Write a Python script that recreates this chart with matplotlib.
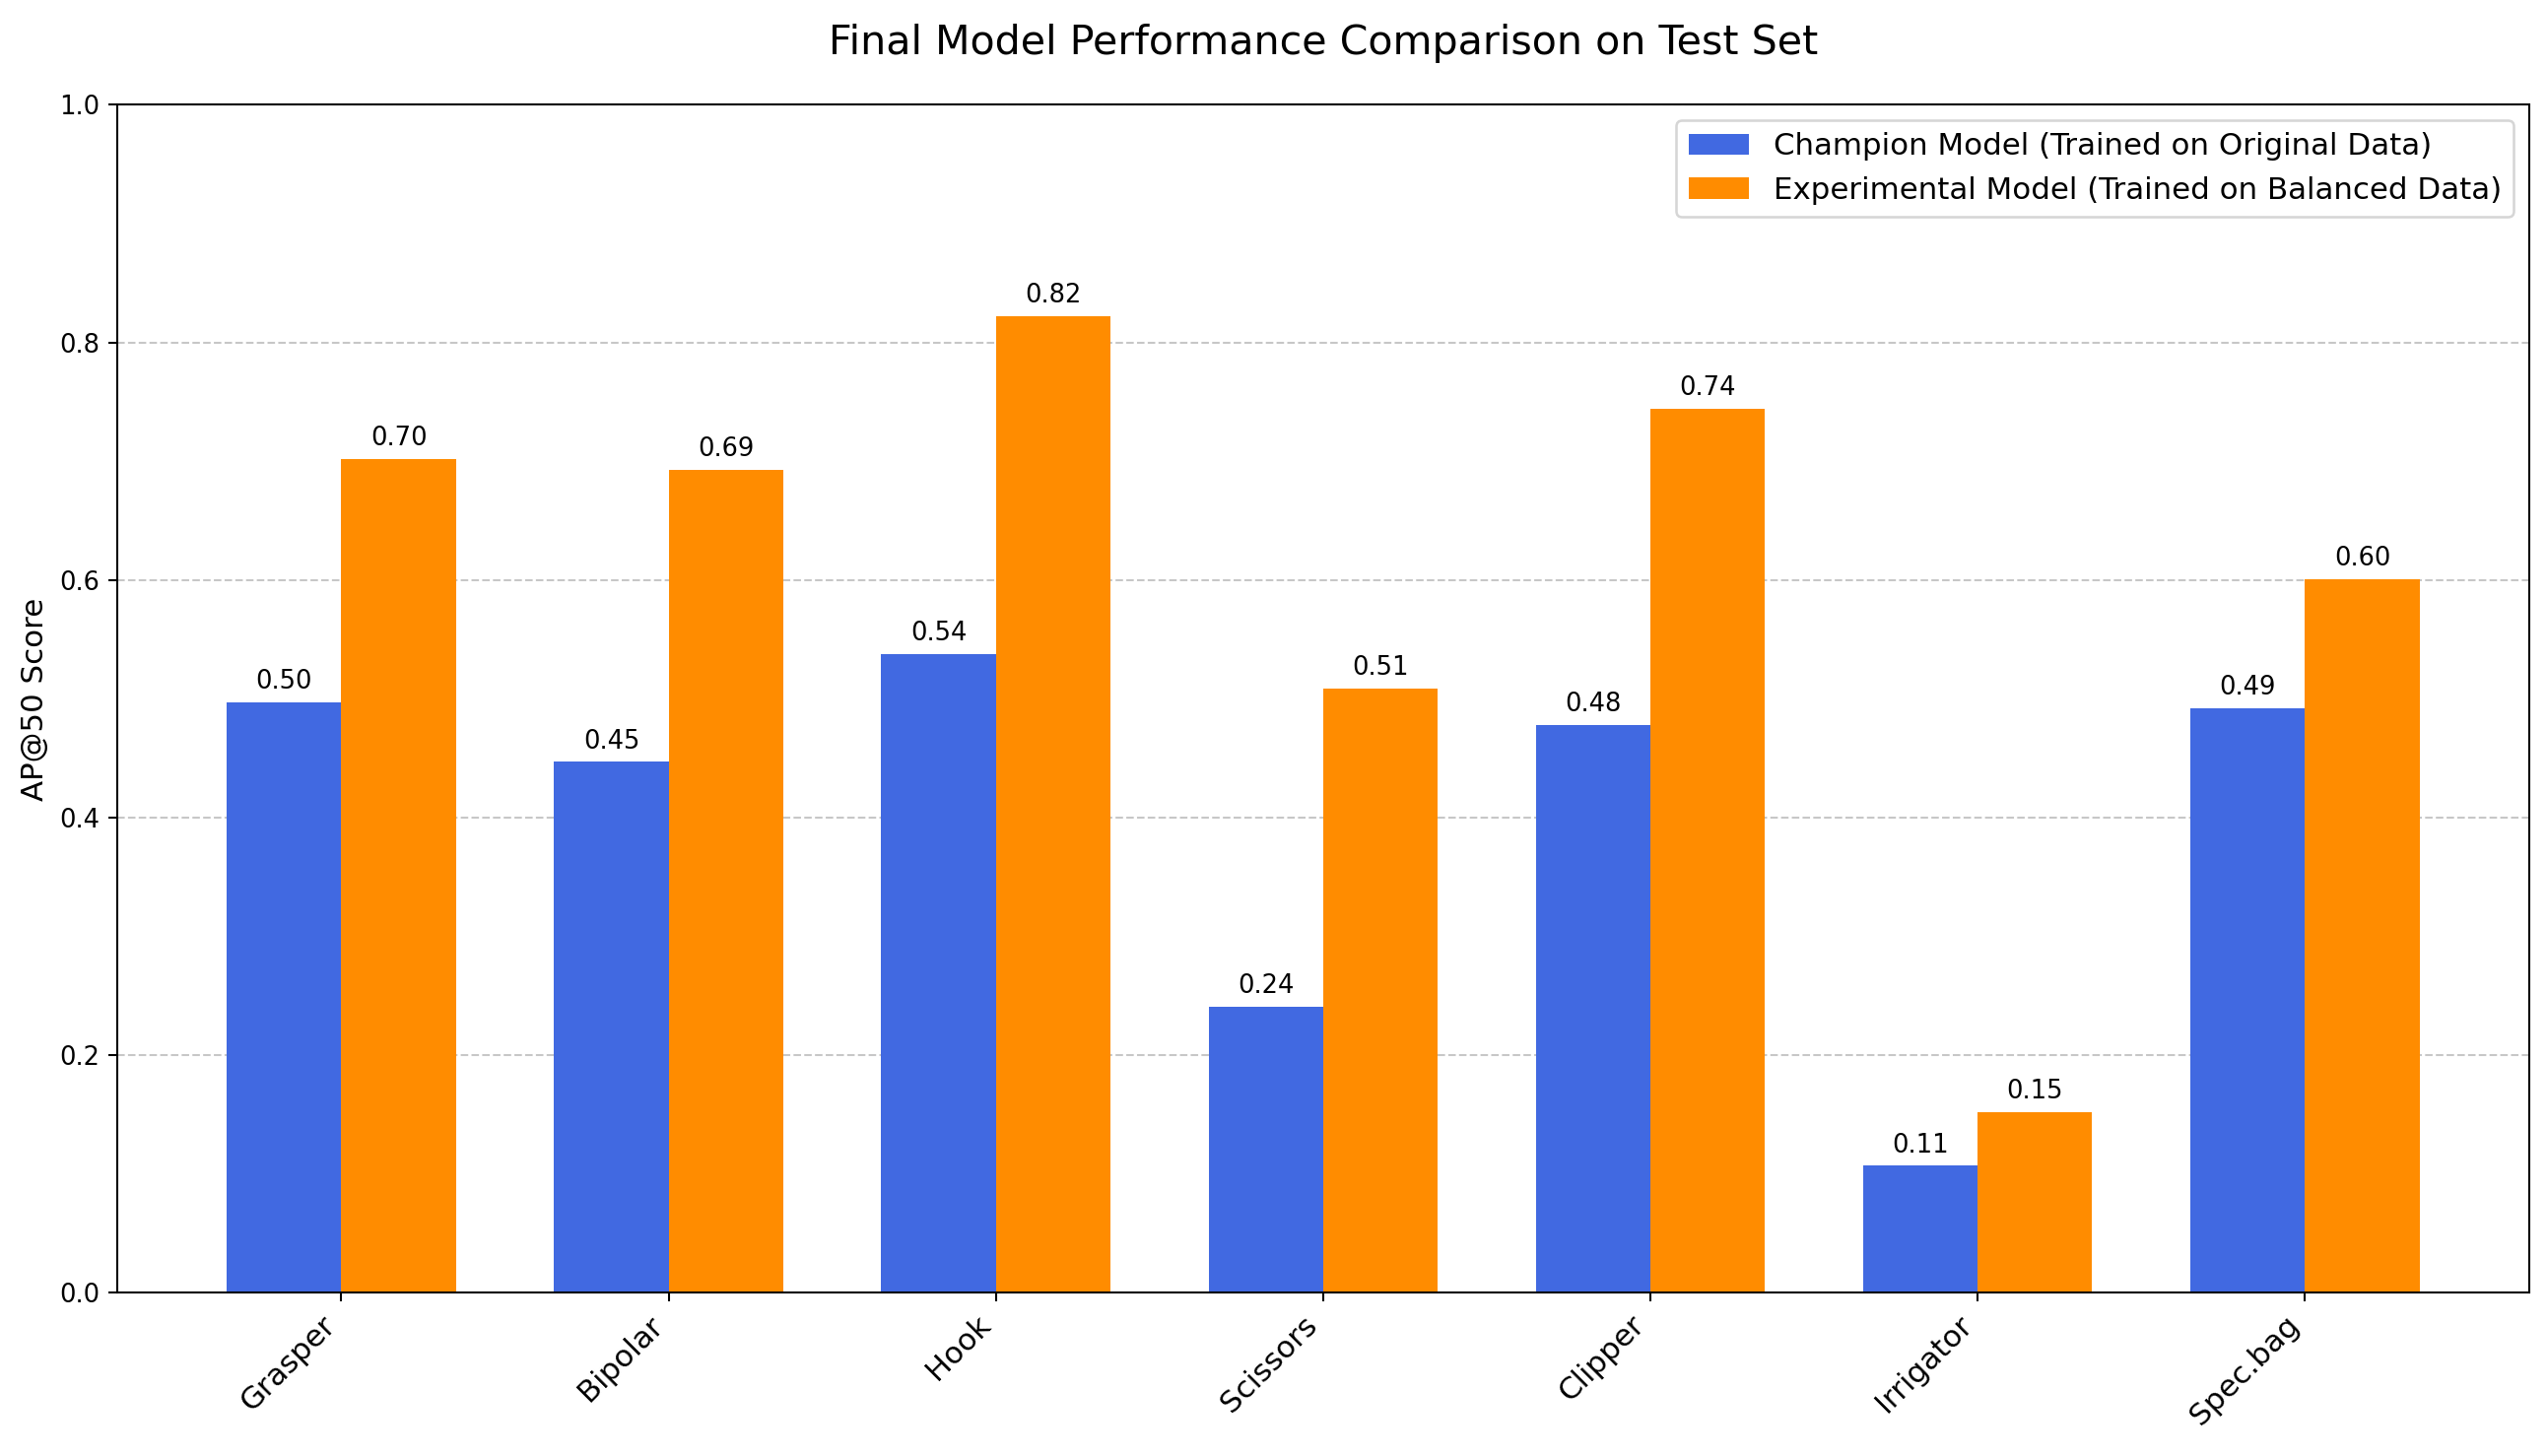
import numpy as np
import matplotlib
matplotlib.use('Agg')
import matplotlib.pyplot as plt

# data
categories = ['Grasper', 'Bipolar', 'Hook', 'Scissors', 'Clipper', 'Irrigator', 'Spec.bag']
champion_ap = [0.497, 0.447, 0.538, 0.241, 0.478, 0.107, 0.492]
experimental_ap = [0.702, 0.693, 0.822, 0.509, 0.744, 0.152, 0.601]

champion_label = 'Champion Model (Trained on Original Data)'
experimental_label = 'Experimental Model (Trained on Balanced Data)'

x = np.arange(len(categories))
width = 0.35

fig, ax = plt.subplots(figsize=(2585 / 185, 1478 / 185), dpi=185)
fig.subplots_adjust(left=0.046, right=0.993, top=0.928, bottom=0.112)

bars1 = ax.bar(x - width / 2, champion_ap, width, label=champion_label, color='royalblue')
bars2 = ax.bar(x + width / 2, experimental_ap, width, label=experimental_label, color='darkorange')

ax.set_ylabel('AP@50 Score', fontsize=12)
ax.set_title('Final Model Performance Comparison on Test Set', fontsize=16, pad=20)
ax.set_xticks(x)
ax.set_xticklabels(categories, rotation=45, ha='right', fontsize=12)
ax.set_ylim(0, 1.0)
ax.legend(fontsize=12, loc='upper right')
ax.grid(axis='y', linestyle='--', alpha=0.7)
ax.set_axisbelow(True)

# value labels on top of the bars
ax.bar_label(bars1, fmt='%.2f', padding=3, fontsize=10)
ax.bar_label(bars2, fmt='%.2f', padding=3, fontsize=10)

plt.savefig('out.png', dpi=185)
